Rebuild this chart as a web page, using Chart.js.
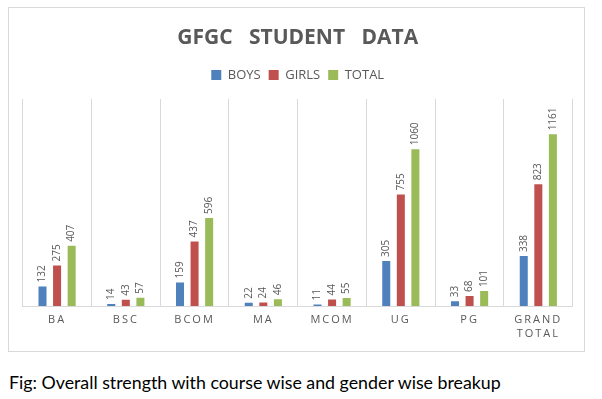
<!DOCTYPE html>
<html>
<head>
<meta charset="utf-8">
<script src="https://cdn.jsdelivr.net/npm/chart.js@4/dist/chart.umd.min.js"></script>
<style>
  html, body { margin: 0; padding: 0; background: #ffffff; }
  body { width: 602px; height: 399px; position: relative; overflow: hidden; }
  #box { position: absolute; left: 8px; top: 7px; width: 575px; height: 343px; border: 1px solid #d9d9d9; }
  #box canvas { display: block; }
  #caption { position: absolute; left: 9px; top: 372px; font-family: Lato, "Open Sans", sans-serif; font-size: 17.8px; line-height: 20px; color: #000; white-space: nowrap; }
</style>
</head>
<body>
<div id="box"><canvas id="chart" width="575" height="343"></canvas></div>
<div id="caption">Fig: Overall strength with course wise and gender wise breakup</div>
<script>
const categories = ['BA', 'BSC', 'BCOM', 'MA', 'MCOM', 'UG', 'PG', ['GRAND', 'TOTAL']];
const boys  = [132, 14, 159, 22, 11, 305, 33, 338];
const girls = [275, 43, 437, 24, 44, 755, 68, 823];
const total = [407, 57, 596, 46, 55, 1060, 101, 1161];
const seriesNames = ['BOYS', 'GIRLS', 'TOTAL'];
const chartTitle = 'GFGC   STUDENT   DATA';

Chart.defaults.font.family = '"Open Sans", sans-serif';
Chart.defaults.color = '#595959';

const valueLabels = {
  id: 'valueLabels',
  afterDatasetsDraw(chart) {
    const ctx = chart.ctx;
    ctx.save();
    ctx.font = '10px "Open Sans", sans-serif';
    ctx.fillStyle = '#595959';
    ctx.textAlign = 'left';
    ctx.textBaseline = 'middle';
    chart.data.datasets.forEach((ds, i) => {
      chart.getDatasetMeta(i).data.forEach((bar, j) => {
        ctx.save();
        ctx.translate(bar.x, bar.y - 4);
        ctx.rotate(-Math.PI / 2);
        ctx.fillText(String(ds.data[j]), 0, 0);
        ctx.restore();
      });
    });
    ctx.restore();
    ctx.letterSpacing = '2px';
  },
  afterDraw(chart) {
    chart.ctx.letterSpacing = '0px';
  }
};

new Chart(document.getElementById('chart'), {
  type: 'bar',
  data: {
    labels: categories,
    datasets: [
      { label: seriesNames[0], data: boys,  backgroundColor: '#4f81bd' },
      { label: seriesNames[1], data: girls, backgroundColor: '#c0504d' },
      { label: seriesNames[2], data: total, backgroundColor: '#9bbb59' }
    ]
  },
  options: {
    responsive: false,
    animation: false,
    categoryPercentage: 0.636,
    barPercentage: 0.55,
    layout: { padding: { left: 13.7, right: 11.3, top: 0, bottom: 3 } },
    plugins: {
      title: {
        display: true,
        text: chartTitle,
        color: '#595959',
        font: { size: 21, weight: 'bold' },
        padding: { top: 17.4, bottom: 9.9 }
      },
      legend: {
        display: true,
        position: 'top',
        labels: {
          boxWidth: 10,
          boxHeight: 10,
          padding: 8,
          color: '#595959',
          font: { size: 13 }
        }
      },
      tooltip: { enabled: false }
    },
    scales: {
      x: {
        position: 'bottom',
        grid: { display: true, color: '#d9d9d9', lineWidth: 1, drawTicks: false, tickLength: 0, offset: true },
        border: { display: true, color: '#d9d9d9' },
        ticks: {
          z: 1,
          padding: 7,
          color: '#595959',
          maxRotation: 0,
          autoSkip: false,
          font: { size: 11, lineHeight: 1.27 }
        }
      },
      xTop: {
        type: 'category',
        position: 'top',
        display: true,
        grid: { display: false },
        border: { display: false },
        ticks: { display: false },
        afterFit(s) { s.height = 7.5; }
      },
      y: {
        display: false,
        min: 0,
        max: 1400
      }
    }
  },
  plugins: [valueLabels]
});
</script>
</body>
</html>
